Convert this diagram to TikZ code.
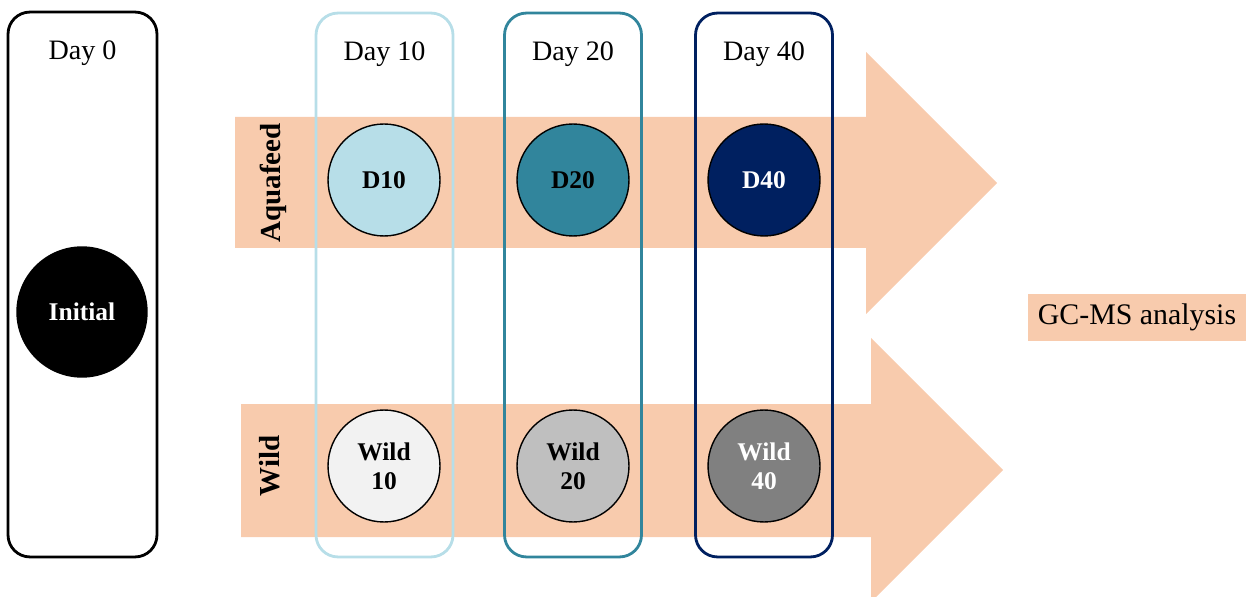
\documentclass[tikz,border=0pt]{standalone}
\usepackage{fontspec}
\setmainfont{Liberation Serif}
\usetikzlibrary{positioning}

\definecolor{peach}{HTML}{F8CBAD}
\definecolor{dayten}{HTML}{B7DEE8}
\definecolor{daytwenty}{HTML}{31859C}
\definecolor{dayforty}{HTML}{002060}
\definecolor{wildten}{HTML}{F2F2F2}
\definecolor{wildtwenty}{HTML}{BFBFBF}
\definecolor{wildforty}{HTML}{808080}

\tikzset{
  daybox/.style={draw=#1, line width=1.6pt, rounded corners=0.44cm, minimum width=2.74cm, minimum height=10.88cm},
  daylabel/.style={font=\fontsize{16}{19}\selectfont},
  sample/.style={circle, draw=black, line width=0.8pt, fill=#1, minimum size=2.24cm, inner sep=0pt, align=center, font=\fontsize{14.5}{16.5}\selectfont\bfseries},
  group/.style={rotate=90, font=\fontsize{16.5}{19}\selectfont\bfseries},
}

\begin{document}
\begin{tikzpicture}[x=0.02cm, y=-0.02cm]
    \useasboundingbox (0,0) rectangle (1246,597);
    \clip (0,0) rectangle (1246,597);
    % arrows
    \fill[peach] (235,117) -- (866,117) -- (866,52) -- (997,183) -- (866,314) -- (866,248) -- (235,248) -- cycle;
    \fill[peach] (241,404) -- (871,404) -- (871,338) -- (1003,470) -- (871,602) -- (871,537) -- (241,537) -- cycle;
    % day boxes
    \node[daybox=black, minimum width=2.98cm, minimum height=10.9cm] (box0) at (82.5,284.5) {};
    \node[daybox=dayten] (box10) at (384.5,285) {};
    \node[daybox=daytwenty] (box20) at (573,285) {};
    \node[daybox=dayforty] (box40) at (764,285) {};
    \foreach \d in {0,10,20,40}
        \node[daylabel] (lab\d) at ([yshift=-0.86cm]box\d.north) {Day \d};
    % samples
    \node[sample=black, text=white, minimum size=2.6cm] (init) at (82,312) {Initial};
    \node[sample=dayten] (d10) at (384,180) {D10};
    \node[sample=daytwenty] (d20) at (573,180) {D20};
    \node[sample=dayforty, text=white] (d40) at (764,180) {D40};
    \node[sample=wildten] (w10) at (384,466) {Wild\\10};
    \node[sample=wildtwenty] (w20) at (573,466) {Wild\\20};
    \node[sample=wildforty, text=white] (w40) at (764,466) {Wild\\40};
    % groups
    \node[group] (aqua) at (273,183) {Aquafeed};
    \node[group] (wild) at (270,466) {Wild};
    \node[fill=peach, minimum width=4.36cm, minimum height=0.94cm, font=\fontsize{17}{20}\selectfont] (gcms) at (1137,317.5) {GC-MS analysis};
\end{tikzpicture}
\end{document}
